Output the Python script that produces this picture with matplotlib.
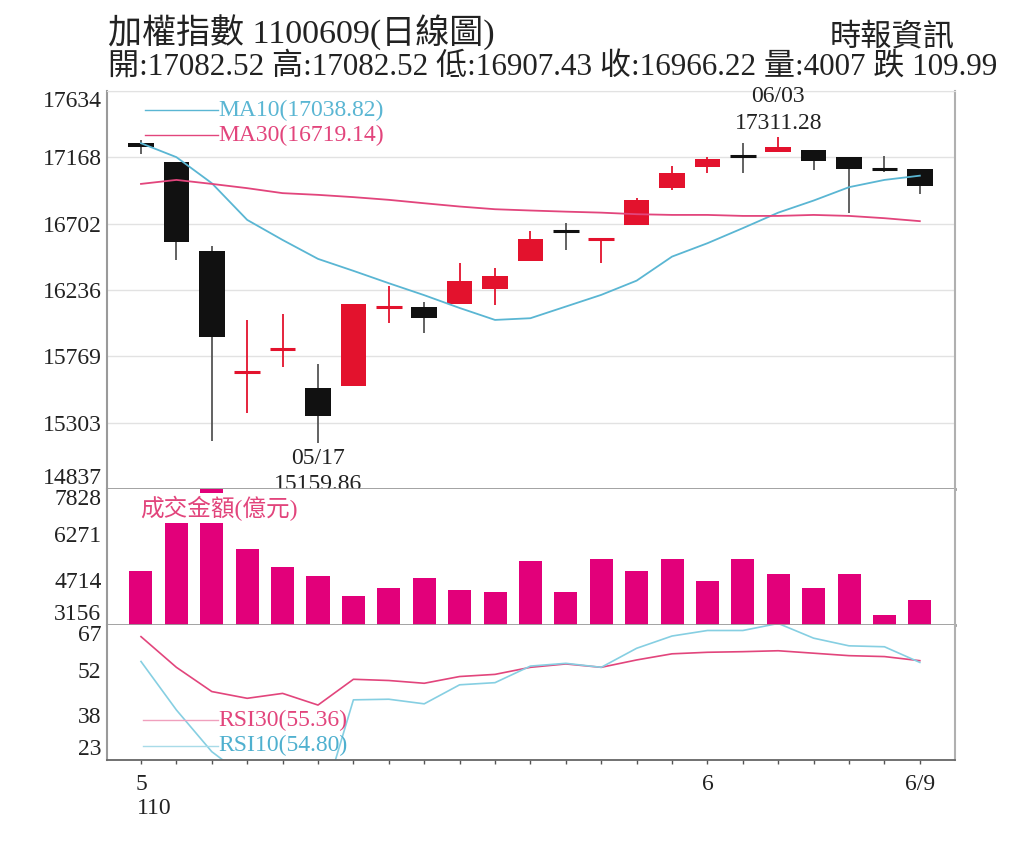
import numpy as np
import matplotlib.pyplot as plt

plt.rcParams['font.family'] = ['Liberation Serif', 'Noto Sans CJK TC', 'DejaVu Sans']

# ---- data ----
dates = ['05/10', '05/11', '05/12', '05/13', '05/14', '05/17', '05/18', '05/19',
         '05/20', '05/21', '05/24', '05/25', '05/26', '05/27', '05/28', '05/31',
         '06/01', '06/02', '06/03', '06/04', '06/07', '06/08', '06/09']
opens = [17270, 17138, 16510, 15655, 15820, 15549, 15561, 16112, 16119, 16135, 16241, 16442,
         16650, 16588, 16693, 16951, 17099, 17180, 17204, 17220, 17173, 17090, 17082.52]
highs = [17290, 17138, 16547, 16025, 16065, 15714, 16138, 16264, 16154, 16428, 16393, 16653,
         16705, 16595, 16881, 17108, 17173, 17267, 17311.28, 17220, 17173, 17178, 17082.52]
lows = [17188, 16447, 15175, 15369, 15697, 15159.86, 15561, 16006, 15936, 16135, 16128, 16442,
        16517, 16424, 16693, 16939, 17056, 17056, 17204, 17080, 16779, 17068, 16907.43]
closes = [17243, 16576, 15903, 15662, 15826, 15350, 16138, 16119, 16041, 16297, 16337, 16592,
          16643, 16595, 16869, 17061, 17157, 17176, 17243, 17145, 17085, 17076.21, 16966.22]
ma10 = [17267, 17169, 16986, 16728, 16587, 16454, 16370, 16283, 16199, 16109, 16025, 16037,
        16119, 16201, 16301, 16470, 16564, 16670, 16779, 16864, 16958, 17009, 17038.82]
ma30 = [16981, 17009, 16981, 16951, 16916, 16904, 16888, 16869, 16845, 16822, 16803, 16794,
        16786, 16779, 16768, 16763, 16763, 16756, 16756, 16763, 16756, 16740, 16719.14]
volume = [5001, 7500, 8300, 5774, 5152, 4851, 4136, 4425, 4771, 4344, 4286, 5347,
          4298, 5428, 5001, 5428, 4655, 5428, 4921, 4425, 4921, 3502, 4007]
rsi30 = [63.2, 53.2, 45.3, 43.1, 44.7, 40.9, 49.3, 48.9, 48.0, 50.2, 50.9, 53.2,
         54.3, 53.2, 55.6, 57.6, 58.1, 58.3, 58.6, 57.8, 57.0, 56.7, 55.36]
rsi10 = [55.1, 39.3, 25.7, 17.0, 16.0, 4.0, 42.6, 42.8, 41.3, 47.5, 48.2, 53.6,
         54.5, 53.2, 59.4, 63.4, 65.2, 65.2, 67.5, 62.7, 60.2, 59.9, 54.80]

price_ticks = np.linspace(14837, 17634, 7)
vol_ticks = np.linspace(3156.4, 7828, 4)
rsi_ticks = np.linspace(23, 67, 4)

RED = '#e3122d'
BLACK = '#111111'
BLUE = '#5ab6d3'
PINK = '#e2457c'
MAGENTA = '#e2007a'
TXT = '#222222'
FS = 17

x = np.arange(len(dates))

fig = plt.figure(figsize=(10.24, 8.48), dpi=100)
ax1 = fig.add_axes([0.1045, 0.4234, 0.828, 0.4693])
ax2 = fig.add_axes([0.1045, 0.2630, 0.828, 0.1604], sharex=ax1)
ax3 = fig.add_axes([0.1045, 0.1038, 0.828, 0.1592], sharex=ax1)

# ---- price panel ----
for i in x:
    o, h, l, c = opens[i], highs[i], lows[i], closes[i]
    col = RED if c >= o else BLACK
    wcol = col if col == RED else '#555555'
    ax1.vlines(i, l, h, color=wcol, lw=1.3, zorder=2)
    hgt = abs(c - o)
    if hgt < 14:
        ax1.hlines((o + c) / 2, i - 0.36, i + 0.36, color=col, lw=2.2, zorder=3)
    else:
        ax1.bar(i, hgt, bottom=min(o, c), width=0.72, color=col, zorder=3)

ax1.plot(x, ma10, color=BLUE, lw=1.3, zorder=4)
ax1.plot(x, ma30, color=PINK, lw=1.3, zorder=4)

ax1.plot([0.045, 0.131], [0.952, 0.952], color=BLUE, lw=1, transform=ax1.transAxes)
ax1.plot([0.045, 0.131], [0.889, 0.889], color=PINK, lw=1, transform=ax1.transAxes)
ax1.text(0.131, 0.952, 'MA10(%.2f)' % ma10[-1], color=BLUE, fontsize=FS,
         transform=ax1.transAxes, va='center', ha='left')
ax1.text(0.131, 0.889, 'MA30(%.2f)' % ma30[-1], color=PINK, fontsize=FS,
         transform=ax1.transAxes, va='center', ha='left')

# highest / lowest notes
ih = int(np.argmax(highs))
il = int(np.argmin(lows))
ax1.annotate(dates[ih], (ih, highs[ih]), xytext=(0, 29), textcoords='offset points',
             ha='center', va='center', fontsize=FS, color=TXT)
ax1.annotate('%.2f' % highs[ih], (ih, highs[ih]), xytext=(0, 10), textcoords='offset points',
             ha='center', va='center', fontsize=FS, color=TXT)
ax1.annotate(dates[il], (il, lows[il]), xytext=(0, -11), textcoords='offset points',
             ha='center', va='center', fontsize=FS, color=TXT, annotation_clip=False)
ax1.annotate('%.2f' % lows[il], (il, lows[il]), xytext=(0, -30), textcoords='offset points',
             ha='center', va='center', fontsize=FS, color=TXT, annotation_clip=False, zorder=1)

ax1.set_ylim(price_ticks[0], price_ticks[-1])
ax1.set_yticks(price_ticks)
ax1.set_yticklabels(['%.0f' % v for v in price_ticks])
ax1.grid(axis='y', color='#e2e2e2', lw=1)
ax1.set_axisbelow(True)

# ---- volume panel ----
ax2.bar(x, volume, width=0.65, color=MAGENTA, zorder=2)
ax2.set_ylim(vol_ticks[0], vol_ticks[-1])
ax2.set_yticks(vol_ticks)
ax2.set_yticklabels(['%.0f' % v for v in vol_ticks])
ax2.text(0.039, 0.86, '成交金額(億元)', color=PINK, fontsize=17, transform=ax2.transAxes,
         va='center', ha='left', zorder=5,
         bbox=dict(facecolor='white', edgecolor='none', pad=1.5))

# ---- RSI panel ----
ax3.plot(x, rsi30, color=PINK, lw=1.2)
ax3.plot(x, rsi10, color='#86cfe2', lw=1.2)
ax3.set_ylim(rsi_ticks[0], rsi_ticks[-1])
ax3.set_yticks(rsi_ticks)
ax3.set_yticklabels(['%.0f' % v for v in rsi_ticks])
ax3.plot([0.042, 0.131], [0.296, 0.296], color='#f0a0bd', lw=1, transform=ax3.transAxes)
ax3.plot([0.042, 0.131], [0.104, 0.104], color='#a8dbe8', lw=1, transform=ax3.transAxes)
ax3.text(0.131, 0.296, 'RSI30(%.2f)' % rsi30[-1], color=PINK, fontsize=FS,
         transform=ax3.transAxes, va='center', ha='left')
ax3.text(0.131, 0.104, 'RSI10(%.2f)' % rsi10[-1], color='#4fb0cf', fontsize=FS,
         transform=ax3.transAxes, va='center', ha='left')

ax1.set_xlim(-0.96, 22.99)
ax3.set_xticks([0, 16, 22])
ax3.set_xticklabels(['5', '6', '6/9'])
ax3.set_xticks(x, minor=True)
ax3.tick_params(axis='x', which='major', length=3, width=1, color='#555555', pad=7,
                labelsize=FS, labelcolor=TXT)
ax3.tick_params(axis='x', which='minor', length=3, width=1, color='#555555')
ax3.text(-0.12, -0.36, '110', transform=ax3.get_xaxis_transform(), fontsize=FS,
         color=TXT, ha='left', va='center')

for ax in (ax1, ax2):
    ax.tick_params(axis='x', which='both', bottom=False, labelbottom=False)

for ax in (ax1, ax2, ax3):
    ax.tick_params(axis='y', length=0, pad=4, labelsize=FS, labelcolor=TXT)
    labs = ax.get_yticklabels()
    labs[0].set_va('bottom')
    labs[-1].set_va('top')
    ax.spines['left'].set_color('#9a9a9a')
    ax.spines['left'].set_linewidth(1.5)
    ax.spines['right'].set_color('#b0b0b0')
    ax.spines['right'].set_linewidth(1.5)
    ax.spines['bottom'].set_color('#9a9a9a')
    ax.spines['bottom'].set_linewidth(2)
    ax.spines['top'].set_visible(False)

ax1.spines['top'].set_visible(True)
ax1.spines['top'].set_color('#e2e2e2')
ax3.spines['bottom'].set_color('#666666')
ax3.spines['bottom'].set_linewidth(1.3)

# ---- titles ----
fig.text(108 / 1024, 1 - 33 / 848, '加權指數 1100609(日線圖)', fontsize=24.5, color=TXT,
         ha='left', va='center')
fig.text(955 / 1024, 1 - 38 / 848, '時報資訊', fontsize=22.5, color=TXT,
         ha='right', va='center')
change = closes[-2] - closes[-1]
fig.text(108 / 1024, 1 - 68 / 848,
         '開:%.2f 高:%.2f 低:%.2f 收:%.2f 量:%d 跌 %.2f'
         % (opens[-1], highs[-1], lows[-1], closes[-1], volume[-1], change),
         fontsize=22.4, color=TXT, ha='left', va='center')

fig.savefig('out.png', dpi=100)
